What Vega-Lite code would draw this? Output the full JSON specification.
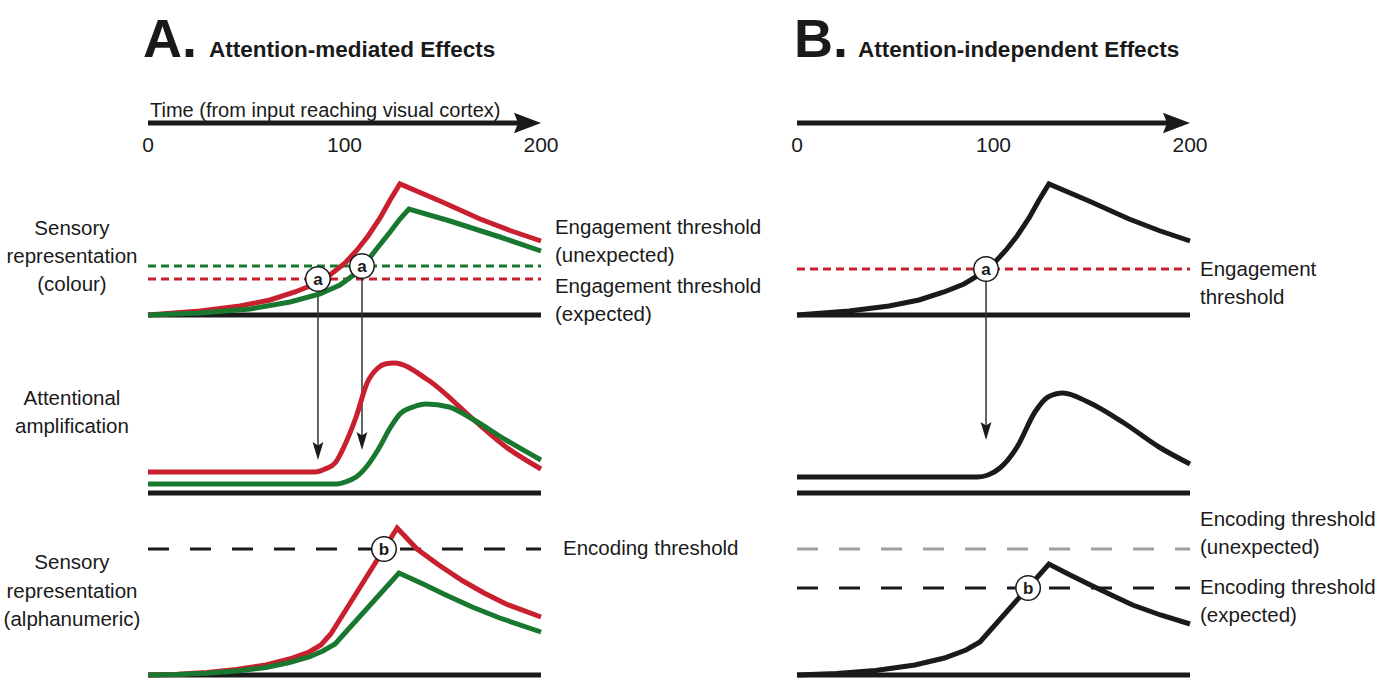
{
  "$schema": "https://vega.github.io/schema/vega-lite/v6.json",
  "padding": 0,
  "autosize": {"type": "pad"},
  "background": "white",
  "config": {"view": {"stroke": null}, "text": {"font": "Liberation Sans, Arial, sans-serif", "color": "#1a1a1a"}},
  "columns": 2,
  "spacing": 0,
  "bounds": "flush",
  "concat": [
    {
      "width": 700, "height": 335,
      "encoding": {
        "x": {"field": "t", "type": "quantitative", "scale": {"domain": [-75.318, 280.916], "nice": false, "zero": false}, "axis": null},
        "y": {"field": "v", "type": "quantitative", "scale": {"domain": [-20, 315], "nice": false, "zero": false}, "axis": null}
      },
      "layer": [
        {"data": {"values": [{"t": -2.5, "v": 258, "label": "A."}]}, "mark": {"type": "text", "align": "left", "baseline": "alphabetic", "fontSize": 54, "fontWeight": "bold"}, "encoding": {"text": {"field": "label"}}},
        {"data": {"values": [{"t": 31, "v": 258, "label": "Attention-mediated Effects"}]}, "mark": {"type": "text", "align": "left", "baseline": "alphabetic", "fontSize": 22.5, "fontWeight": "bold"}, "encoding": {"text": {"field": "label"}}},
        {"data": {"values": [{"t": 1, "v": 198, "label": "Time (from input reaching visual cortex)"}]}, "mark": {"type": "text", "align": "left", "baseline": "alphabetic", "fontSize": 20}, "encoding": {"text": {"field": "label"}}},
        {"data": {"values": [{"t": 0, "t2": 190, "v": 192}]}, "mark": {"type": "rule", "strokeWidth": 5, "color": "#1a1a1a"}, "encoding": {"x2": {"field": "t2"}}},
        {"data": {"values": [{"t": 200, "v": 192}]}, "mark": {"type": "point", "shape": "M -1 -0.38 L 0 0 L -1 0.38 L -0.85 0 Z", "size": 2916, "filled": true, "opacity": 1, "color": "#1a1a1a"}},
        {"data": {"values": [{"t": 0, "v": 169, "label": "0"}, {"t": 100, "v": 169, "label": "100"}, {"t": 200, "v": 169, "label": "200"}]}, "mark": {"type": "text", "align": "center", "baseline": "middle", "fontSize": 21}, "encoding": {"text": {"field": "label"}}},
        {"data": {"values": [{"t": 0, "t2": 200, "v": 0}]}, "mark": {"type": "rule", "strokeWidth": 5, "color": "#1a1a1a"}, "encoding": {"x2": {"field": "t2"}}},
        {"data": {"values": [{"t": 0, "t2": 200, "v": 49, "series": "unexpected"}, {"t": 0, "t2": 200, "v": 36, "series": "expected"}]}, "mark": {"type": "rule", "strokeWidth": 3, "strokeDash": [8, 5]}, "encoding": {"x2": {"field": "t2"}, "color": {"field": "series", "type": "nominal", "scale": {"domain": ["expected", "unexpected", "single"], "range": ["#c8202f", "#19782f", "#1a1a1a"]}, "legend": null}}},
        {"data": {"values": [{"t": 86.5, "v": 36, "v2": -138}, {"t": 108.9, "v": 49, "v2": -128}]}, "mark": {"type": "rule", "strokeWidth": 1.5, "color": "#333333"}, "encoding": {"y2": {"field": "v2"}}},
        {"data": {"values": [{"t": 86.5, "v": -145}, {"t": 108.9, "v": -135}]}, "mark": {"type": "point", "shape": "M -0.3 -1 L 0 0 L 0.3 -1 L 0 -0.8 Z", "size": 1296, "filled": true, "opacity": 1, "color": "#1a1a1a"}},
        {"data": {"values": [
          {"series": "expected", "t": 0, "v": 0}, {"series": "expected", "t": 26.5, "v": 4}, {"series": "expected", "t": 46.8, "v": 9}, {"series": "expected", "t": 62.1, "v": 15}, {"series": "expected", "t": 74.8, "v": 23}, {"series": "expected", "t": 85.0, "v": 31}, {"series": "expected", "t": 92.6, "v": 40}, {"series": "expected", "t": 100.3, "v": 52}, {"series": "expected", "t": 106.4, "v": 65}, {"series": "expected", "t": 112.0, "v": 79}, {"series": "expected", "t": 118.1, "v": 97}, {"series": "expected", "t": 123.2, "v": 115}, {"series": "expected", "t": 128.2, "v": 131}, {"series": "expected", "t": 148.6, "v": 114}, {"series": "expected", "t": 169.0, "v": 96}, {"series": "expected", "t": 184.2, "v": 84.5}, {"series": "expected", "t": 200, "v": 74},
          {"series": "unexpected", "t": 0, "v": 0}, {"series": "unexpected", "t": 26.5, "v": 2}, {"series": "unexpected", "t": 51.9, "v": 6}, {"series": "unexpected", "t": 72.3, "v": 13}, {"series": "unexpected", "t": 87.5, "v": 21}, {"series": "unexpected", "t": 97.7, "v": 30}, {"series": "unexpected", "t": 105.3, "v": 41}, {"series": "unexpected", "t": 110.4, "v": 51}, {"series": "unexpected", "t": 115.5, "v": 64}, {"series": "unexpected", "t": 123.2, "v": 83}, {"series": "unexpected", "t": 128.2, "v": 96}, {"series": "unexpected", "t": 132.8, "v": 106}, {"series": "unexpected", "t": 153.7, "v": 94}, {"series": "unexpected", "t": 179.1, "v": 78}, {"series": "unexpected", "t": 200, "v": 64}
        ]}, "mark": {"type": "line", "strokeWidth": 5, "interpolate": "linear"}, "encoding": {"color": {"field": "series", "type": "nominal", "scale": {"domain": ["expected", "unexpected", "single"], "range": ["#c8202f", "#19782f", "#1a1a1a"]}, "legend": null}}},
        {"data": {"values": [{"t": 86.5, "v": 36, "label": "a"}, {"t": 108.9, "v": 49, "label": "a"}]}, "layer": [
          {"mark": {"type": "point", "shape": "circle", "size": 600, "filled": true, "fill": "white", "stroke": "#1a1a1a", "strokeWidth": 1.5, "opacity": 1}},
          {"mark": {"type": "text", "align": "center", "baseline": "middle", "fontSize": 17, "fontWeight": "bold", "dy": 1}, "encoding": {"text": {"field": "label"}}}
        ]},
        {"data": {"values": [{"t": 207.1, "v": 87, "label": "Engagement threshold\n(unexpected)"}, {"t": 207.1, "v": 28, "label": "Engagement threshold\n(expected)"}]}, "mark": {"type": "text", "align": "left", "baseline": "middle", "fontSize": 20.5, "lineBreak": "\n", "lineHeight": 28}, "encoding": {"text": {"field": "label"}}},
        {"data": {"values": [{"t": -38.7, "v": 86, "label": "Sensory\nrepresentation\n(colour)"}]}, "mark": {"type": "text", "align": "center", "baseline": "middle", "fontSize": 20.5, "lineBreak": "\n", "lineHeight": 28}, "encoding": {"text": {"field": "label"}}}
      ]
    },
    {
      "width": 684, "height": 335,
      "encoding": {
        "x": {"field": "t", "type": "quantitative", "scale": {"domain": [-49.364, 298.728], "nice": false, "zero": false}, "axis": null},
        "y": {"field": "v", "type": "quantitative", "scale": {"domain": [-20, 315], "nice": false, "zero": false}, "axis": null}
      },
      "layer": [
        {"data": {"values": [{"t": -1.5, "v": 258, "label": "B."}]}, "mark": {"type": "text", "align": "left", "baseline": "alphabetic", "fontSize": 54, "fontWeight": "bold"}, "encoding": {"text": {"field": "label"}}},
        {"data": {"values": [{"t": 31, "v": 258, "label": "Attention-independent Effects"}]}, "mark": {"type": "text", "align": "left", "baseline": "alphabetic", "fontSize": 22.5, "fontWeight": "bold"}, "encoding": {"text": {"field": "label"}}},
        {"data": {"values": [{"t": 0, "t2": 190, "v": 192}]}, "mark": {"type": "rule", "strokeWidth": 5, "color": "#1a1a1a"}, "encoding": {"x2": {"field": "t2"}}},
        {"data": {"values": [{"t": 200, "v": 192}]}, "mark": {"type": "point", "shape": "M -1 -0.38 L 0 0 L -1 0.38 L -0.85 0 Z", "size": 2916, "filled": true, "opacity": 1, "color": "#1a1a1a"}},
        {"data": {"values": [{"t": 0, "v": 169, "label": "0"}, {"t": 100, "v": 169, "label": "100"}, {"t": 200, "v": 169, "label": "200"}]}, "mark": {"type": "text", "align": "center", "baseline": "middle", "fontSize": 21}, "encoding": {"text": {"field": "label"}}},
        {"data": {"values": [{"t": 0, "t2": 200, "v": 0}]}, "mark": {"type": "rule", "strokeWidth": 5, "color": "#1a1a1a"}, "encoding": {"x2": {"field": "t2"}}},
        {"data": {"values": [{"t": 0, "t2": 200, "v": 46}]}, "mark": {"type": "rule", "strokeWidth": 3, "strokeDash": [8, 5], "color": "#c8202f"}, "encoding": {"x2": {"field": "t2"}}},
        {"data": {"values": [{"t": 96.2, "v": 46, "v2": -118}]}, "mark": {"type": "rule", "strokeWidth": 1.5, "color": "#333333"}, "encoding": {"y2": {"field": "v2"}}},
        {"data": {"values": [{"t": 96.2, "v": -125}]}, "mark": {"type": "point", "shape": "M -0.3 -1 L 0 0 L 0.3 -1 L 0 -0.8 Z", "size": 1296, "filled": true, "opacity": 1, "color": "#1a1a1a"}},
        {"data": {"values": [
          {"t": 0, "v": 0}, {"t": 26.5, "v": 4}, {"t": 46.8, "v": 9}, {"t": 62.1, "v": 15}, {"t": 74.8, "v": 23}, {"t": 85.0, "v": 31}, {"t": 92.6, "v": 40}, {"t": 100.3, "v": 52}, {"t": 106.4, "v": 65}, {"t": 112.0, "v": 79}, {"t": 118.1, "v": 97}, {"t": 123.2, "v": 115}, {"t": 128.2, "v": 131}, {"t": 148.6, "v": 114}, {"t": 169.0, "v": 96}, {"t": 184.2, "v": 84.5}, {"t": 200, "v": 74}
        ]}, "mark": {"type": "line", "strokeWidth": 5, "interpolate": "linear", "color": "#1a1a1a"}},
        {"data": {"values": [{"t": 96.2, "v": 46, "label": "a"}]}, "layer": [
          {"mark": {"type": "point", "shape": "circle", "size": 600, "filled": true, "fill": "white", "stroke": "#1a1a1a", "strokeWidth": 1.5, "opacity": 1}},
          {"mark": {"type": "text", "align": "center", "baseline": "middle", "fontSize": 17, "fontWeight": "bold", "dy": 1}, "encoding": {"text": {"field": "label"}}}
        ]},
        {"data": {"values": [{"t": 205.1, "v": 45, "label": "Engagement\nthreshold"}]}, "mark": {"type": "text", "align": "left", "baseline": "middle", "fontSize": 20.5, "lineBreak": "\n", "lineHeight": 28}, "encoding": {"text": {"field": "label"}}}
      ]
    },
    {
      "width": 700, "height": 170,
      "encoding": {
        "x": {"field": "t", "type": "quantitative", "scale": {"domain": [-75.318, 280.916], "nice": false, "zero": false}, "axis": null},
        "y": {"field": "v", "type": "quantitative", "scale": {"domain": [-12, 158], "nice": false, "zero": false}, "axis": null}
      },
      "layer": [
        {"data": {"values": [{"t": 0, "t2": 200, "v": 0}]}, "mark": {"type": "rule", "strokeWidth": 5, "color": "#1a1a1a"}, "encoding": {"x2": {"field": "t2"}}},
        {"data": {"values": [
          {"series": "expected", "t": 0, "v": 21}, {"series": "expected", "t": 85, "v": 21}, {"series": "expected", "t": 90.1, "v": 24}, {"series": "expected", "t": 95.2, "v": 30}, {"series": "expected", "t": 101.3, "v": 53}, {"series": "expected", "t": 105.9, "v": 76}, {"series": "expected", "t": 111.5, "v": 110}, {"series": "expected", "t": 117, "v": 125}, {"series": "expected", "t": 120.6, "v": 129}, {"series": "expected", "t": 125.2, "v": 130}, {"series": "expected", "t": 142.5, "v": 113}, {"series": "expected", "t": 165.9, "v": 73}, {"series": "expected", "t": 182.2, "v": 46}, {"series": "expected", "t": 200, "v": 24},
          {"series": "unexpected", "t": 0, "v": 9}, {"series": "unexpected", "t": 96, "v": 9}, {"series": "unexpected", "t": 100.3, "v": 11}, {"series": "unexpected", "t": 105.9, "v": 16}, {"series": "unexpected", "t": 111.5, "v": 27}, {"series": "unexpected", "t": 117, "v": 43}, {"series": "unexpected", "t": 123.2, "v": 65}, {"series": "unexpected", "t": 128.2, "v": 79}, {"series": "unexpected", "t": 134.9, "v": 86}, {"series": "unexpected", "t": 141.5, "v": 89}, {"series": "unexpected", "t": 153.2, "v": 86}, {"series": "unexpected", "t": 165.9, "v": 73}, {"series": "unexpected", "t": 182.2, "v": 53}, {"series": "unexpected", "t": 200, "v": 33}
        ]}, "mark": {"type": "line", "strokeWidth": 5, "interpolate": "monotone"}, "encoding": {"color": {"field": "series", "type": "nominal", "scale": {"domain": ["expected", "unexpected", "single"], "range": ["#c8202f", "#19782f", "#1a1a1a"]}, "legend": null}}},
        {"data": {"values": [{"t": -38.7, "v": 94, "label": "Attentional\namplification"}]}, "mark": {"type": "text", "align": "center", "baseline": "middle", "fontSize": 20.5, "lineBreak": "\n", "lineHeight": 28}, "encoding": {"text": {"field": "label"}}}
      ]
    },
    {
      "width": 684, "height": 170,
      "encoding": {
        "x": {"field": "t", "type": "quantitative", "scale": {"domain": [-49.364, 298.728], "nice": false, "zero": false}, "axis": null},
        "y": {"field": "v", "type": "quantitative", "scale": {"domain": [-12, 158], "nice": false, "zero": false}, "axis": null}
      },
      "layer": [
        {"data": {"values": [{"t": 0, "t2": 200, "v": 0}]}, "mark": {"type": "rule", "strokeWidth": 5, "color": "#1a1a1a"}, "encoding": {"x2": {"field": "t2"}}},
        {"data": {"values": [
          {"t": 0, "v": 16}, {"t": 92, "v": 16}, {"t": 97.2, "v": 18}, {"t": 103.3, "v": 25}, {"t": 112, "v": 46}, {"t": 121.1, "v": 81}, {"t": 127.7, "v": 96}, {"t": 135.4, "v": 100}, {"t": 148.1, "v": 91}, {"t": 166.4, "v": 70}, {"t": 184.2, "v": 46}, {"t": 200, "v": 29}
        ]}, "mark": {"type": "line", "strokeWidth": 5, "interpolate": "monotone", "color": "#1a1a1a"}}
      ]
    },
    {
      "width": 700, "height": 173,
      "encoding": {
        "x": {"field": "t", "type": "quantitative", "scale": {"domain": [-75.318, 280.916], "nice": false, "zero": false}, "axis": null},
        "y": {"field": "v", "type": "quantitative", "scale": {"domain": [-3, 170], "nice": false, "zero": false}, "axis": null}
      },
      "layer": [
        {"data": {"values": [{"t": 0, "t2": 200, "v": 0}]}, "mark": {"type": "rule", "strokeWidth": 5, "color": "#1a1a1a"}, "encoding": {"x2": {"field": "t2"}}},
        {"data": {"values": [{"t": 0, "t2": 200, "v": 126}]}, "mark": {"type": "rule", "strokeWidth": 3, "strokeDash": [21, 21], "color": "#1a1a1a"}, "encoding": {"x2": {"field": "t2"}}},
        {"data": {"values": [
          {"series": "expected", "t": 0, "v": 0}, {"series": "expected", "t": 15, "v": 0.8}, {"series": "expected", "t": 30, "v": 2.5}, {"series": "expected", "t": 45, "v": 5.5}, {"series": "expected", "t": 60, "v": 10}, {"series": "expected", "t": 72, "v": 16}, {"series": "expected", "t": 82, "v": 23}, {"series": "expected", "t": 88, "v": 30}, {"series": "expected", "t": 93, "v": 41}, {"series": "expected", "t": 126.8, "v": 147}, {"series": "expected", "t": 136.9, "v": 126}, {"series": "expected", "t": 148, "v": 110}, {"series": "expected", "t": 160.3, "v": 94}, {"series": "expected", "t": 171, "v": 82}, {"series": "expected", "t": 182.2, "v": 71}, {"series": "expected", "t": 200, "v": 58},
          {"series": "unexpected", "t": 0, "v": 0}, {"series": "unexpected", "t": 15, "v": 0.5}, {"series": "unexpected", "t": 30, "v": 1.8}, {"series": "unexpected", "t": 45, "v": 4}, {"series": "unexpected", "t": 60, "v": 7.5}, {"series": "unexpected", "t": 72, "v": 12.5}, {"series": "unexpected", "t": 82, "v": 18}, {"series": "unexpected", "t": 89, "v": 24}, {"series": "unexpected", "t": 95.2, "v": 31}, {"series": "unexpected", "t": 127.7, "v": 102}, {"series": "unexpected", "t": 140, "v": 91}, {"series": "unexpected", "t": 151.6, "v": 80}, {"series": "unexpected", "t": 165, "v": 68}, {"series": "unexpected", "t": 179, "v": 57}, {"series": "unexpected", "t": 200, "v": 43}
        ]}, "mark": {"type": "line", "strokeWidth": 5, "interpolate": "linear"}, "encoding": {"color": {"field": "series", "type": "nominal", "scale": {"domain": ["expected", "unexpected", "single"], "range": ["#c8202f", "#19782f", "#1a1a1a"]}, "legend": null}}},
        {"data": {"values": [{"t": 120.1, "v": 126, "label": "b"}]}, "layer": [
          {"mark": {"type": "point", "shape": "circle", "size": 600, "filled": true, "fill": "white", "stroke": "#1a1a1a", "strokeWidth": 1.5, "opacity": 1}},
          {"mark": {"type": "text", "align": "center", "baseline": "middle", "fontSize": 17, "fontWeight": "bold", "dy": 1}, "encoding": {"text": {"field": "label"}}}
        ]},
        {"data": {"values": [{"t": 211.2, "v": 126, "label": "Encoding threshold"}]}, "mark": {"type": "text", "align": "left", "baseline": "middle", "fontSize": 20.5}, "encoding": {"text": {"field": "label"}}},
        {"data": {"values": [{"t": -38.7, "v": 112, "label": "Sensory\nrepresentation\n(alphanumeric)"}]}, "mark": {"type": "text", "align": "center", "baseline": "middle", "fontSize": 20.5, "lineBreak": "\n", "lineHeight": 28.5}, "encoding": {"text": {"field": "label"}}}
      ]
    },
    {
      "width": 684, "height": 173,
      "encoding": {
        "x": {"field": "t", "type": "quantitative", "scale": {"domain": [-49.364, 298.728], "nice": false, "zero": false}, "axis": null},
        "y": {"field": "v", "type": "quantitative", "scale": {"domain": [-3, 170], "nice": false, "zero": false}, "axis": null}
      },
      "layer": [
        {"data": {"values": [{"t": 0, "t2": 200, "v": 0}]}, "mark": {"type": "rule", "strokeWidth": 5, "color": "#1a1a1a"}, "encoding": {"x2": {"field": "t2"}}},
        {"data": {"values": [{"t": 0, "t2": 200, "v": 126}]}, "mark": {"type": "rule", "strokeWidth": 3, "strokeDash": [21, 21], "color": "#a0a0a0"}, "encoding": {"x2": {"field": "t2"}}},
        {"data": {"values": [{"t": 0, "t2": 200, "v": 87}]}, "mark": {"type": "rule", "strokeWidth": 3, "strokeDash": [21, 21], "color": "#1a1a1a"}, "encoding": {"x2": {"field": "t2"}}},
        {"data": {"values": [
          {"t": 0, "v": 0}, {"t": 20, "v": 1.5}, {"t": 40, "v": 4.5}, {"t": 60, "v": 10}, {"t": 75, "v": 17}, {"t": 86, "v": 25}, {"t": 93.1, "v": 33}, {"t": 128.2, "v": 111}, {"t": 138, "v": 101}, {"t": 148.3, "v": 91}, {"t": 160, "v": 80}, {"t": 170.8, "v": 70}, {"t": 185, "v": 60}, {"t": 200, "v": 51}
        ]}, "mark": {"type": "line", "strokeWidth": 5, "interpolate": "linear", "color": "#1a1a1a"}},
        {"data": {"values": [{"t": 117.6, "v": 87, "label": "b"}]}, "layer": [
          {"mark": {"type": "point", "shape": "circle", "size": 600, "filled": true, "fill": "white", "stroke": "#1a1a1a", "strokeWidth": 1.5, "opacity": 1}},
          {"mark": {"type": "text", "align": "center", "baseline": "middle", "fontSize": 17, "fontWeight": "bold", "dy": 1}, "encoding": {"text": {"field": "label"}}}
        ]},
        {"data": {"values": [{"t": 205.1, "v": 155, "label": "Encoding threshold\n(unexpected)"}, {"t": 205.1, "v": 87, "label": "Encoding threshold\n(expected)"}]}, "mark": {"type": "text", "align": "left", "baseline": "middle", "fontSize": 20.5, "lineBreak": "\n", "lineHeight": 28}, "encoding": {"text": {"field": "label"}}}
      ]
    }
  ]
}
